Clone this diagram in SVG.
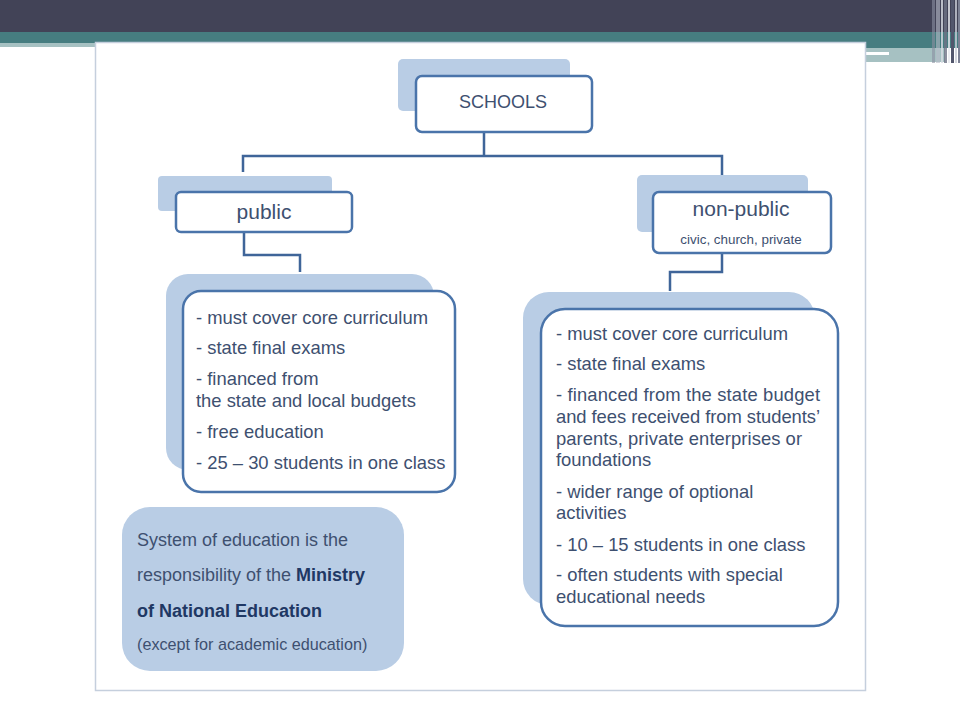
<svg xmlns="http://www.w3.org/2000/svg" width="960" height="720" viewBox="0 0 960 720">
<style>
.sh{fill:#b9cde5;}
.bx{fill:#ffffff;stroke:#4a74aa;stroke-width:2.5;}
.cn{fill:none;stroke:#3f6599;stroke-width:2.5;}
text{font-family:"Liberation Sans",Arial,sans-serif;fill:#3e5070;}
.t{font-size:18.4px;}
.b{font-weight:bold;fill:#1f3864;}
</style>
<rect x="0" y="0" width="960" height="720" fill="#ffffff"/>
<g id="header">
<rect x="0" y="0" width="960" height="32" fill="#424357"/>
<rect x="0" y="32" width="960" height="11" fill="#467d80"/>
<rect x="0" y="43" width="96" height="4" fill="#a6c1c2"/>
<rect x="865" y="43" width="95" height="5" fill="#467d80"/>
<rect x="865" y="48" width="80" height="14" fill="#a6c1c2"/>
<rect x="866" y="52" width="23" height="3" fill="#ffffff"/>
<rect x="932" y="0" width="3" height="63" fill="#8a8fa0" opacity="0.6"/>
<rect x="936" y="0" width="4" height="63" fill="#b8bcc8" opacity="0.6"/>
<rect x="941" y="0" width="2" height="63" fill="#d8dce4" opacity="0.8"/>
<rect x="944" y="0" width="3" height="63" fill="#6e7386" opacity="0.8"/>
<rect x="948" y="0" width="2" height="63" fill="#e6e8ee" opacity="0.8"/>
<rect x="951" y="0" width="3" height="63" fill="#52566c"/>
<rect x="955" y="0" width="2" height="63" fill="#c8ccd6" opacity="0.8"/>
<rect x="958" y="0" width="2" height="63" fill="#7c8194"/>
</g>
<rect x="95.5" y="42.5" width="770" height="648" fill="#ffffff" stroke="#c5cfdd" stroke-width="1.5"/>

<g id="connectors">
<path class="cn" d="M484 132 V156 M243 172 V156 H722 V176"/>
<path class="cn" d="M244 232 V255 H300 V272"/>
<path class="cn" d="M722 253 V272 H670 V291"/>
</g>

<g id="schools">
<rect class="sh" x="398" y="59" width="172" height="52" rx="5"/>
<rect class="bx" x="416" y="76" width="176" height="56" rx="6"/>
<text x="503" y="108" text-anchor="middle" font-size="18">SCHOOLS</text>
</g>

<g id="public">
<rect class="sh" x="158" y="176" width="174" height="35" rx="4"/>
<rect class="bx" x="176" y="192" width="176" height="40" rx="5"/>
<text x="264" y="219" text-anchor="middle" font-size="21">public</text>
</g>

<g id="nonpublic">
<rect class="sh" x="637" y="175" width="171" height="57" rx="5"/>
<rect class="bx" x="653" y="192" width="178" height="61" rx="6"/>
<text x="741" y="216" text-anchor="middle" font-size="21">non-public</text>
<text x="741" y="244" text-anchor="middle" font-size="13.4">civic, church, private</text>
</g>

<g id="public-details">
<rect class="sh" x="166" y="274" width="268" height="196" rx="22"/>
<rect class="bx" x="183" y="291" width="272" height="201" rx="18"/>
<text class="t" x="196" y="324">- must cover core curriculum</text>
<text class="t" x="196" y="354">- state final exams</text>
<text class="t" x="196" y="385">- financed from</text>
<text class="t" x="196" y="407">the state and local budgets</text>
<text class="t" x="196" y="438">- free education</text>
<text class="t" x="196" y="469">- 25 – 30 students in one class</text>
</g>

<g id="nonpublic-details">
<rect class="sh" x="523" y="292" width="292" height="313" rx="26"/>
<rect class="bx" x="541" y="309" width="297" height="317" rx="24"/>
<text class="t" x="556" y="340">- must cover core curriculum</text>
<text class="t" x="556" y="370">- state final exams</text>
<text class="t" x="556" y="401" textLength="264" lengthAdjust="spacing">- financed from the state budget</text>
<text class="t" x="556" y="423" textLength="264" lengthAdjust="spacing">and fees received from students’</text>
<text class="t" x="556" y="445" textLength="246" lengthAdjust="spacing">parents, private enterprises or</text>
<text class="t" x="556" y="466">foundations</text>
<text class="t" x="556" y="498">- wider range of optional</text>
<text class="t" x="556" y="519">activities</text>
<text class="t" x="556" y="551">- 10 – 15 students in one class</text>
<text class="t" x="556" y="581">- often students with special</text>
<text class="t" x="556" y="603">educational needs</text>
</g>

<g id="ministry">
<rect class="sh" x="122" y="507" width="282" height="164" rx="28"/>
<text x="137" y="546" font-size="18">System of education is the</text>
<text x="137" y="581" font-size="18">responsibility of the <tspan class="b">Ministry</tspan></text>
<text class="b" x="137" y="617" font-size="18">of National Education</text>
<text x="137" y="650" font-size="16.2">(except for academic education)</text>
</g>
</svg>
